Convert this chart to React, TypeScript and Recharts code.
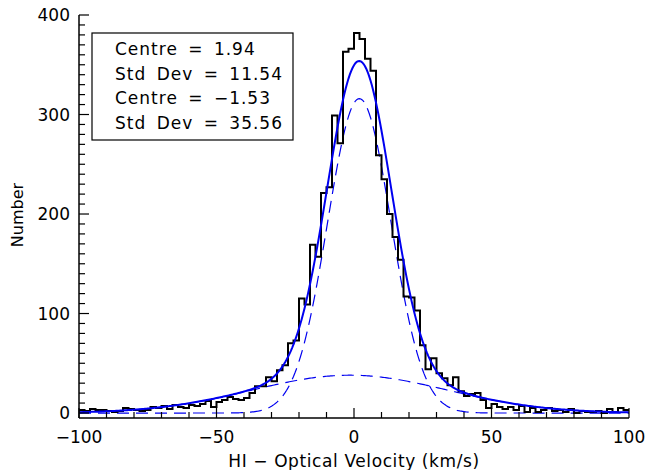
import React from "react";
import { ComposedChart, Line, XAxis, YAxis, Customized } from "recharts";

// histogram: 2 km/s bins from -100 to 100, counts per bin
const binEdges = Array.from({ length: 101 }, (_, i) => -100 + 2 * i);
const binCounts = [
  3, 2, 4, 3, 3, 2, 1, 2, 5, 4,
  3, 2, 3, 6, 5, 7, 4, 8, 6, 5,
  8, 7, 9, 12, 6, 11, 13, 16, 14, 13,
  15, 20, 27, 27, 36, 32, 43, 48, 70, 73,
  115, 109, 169, 157, 221, 227, 299, 271, 363, 366,
  382, 376, 356, 344, 259, 235, 200, 177, 154, 117,
  116, 103, 68, 44, 55, 40, 35, 28, 36, 22,
  17, 19, 20, 13, 5, 9, 6, 4, 6, 3,
  7, 1, 5, 1, 3, 5, 2, 3, 1, 4,
  0, 2, 1, 1, 2, 0, 4, 1, 5, 3,
];

// two-component gaussian fit
const fitCentres = [1.94, -1.53];
const fitSigmas = [11.54, 35.56];
const fitPeaks = [316, 38];

const xTicks = Array.from({ length: 21 }, (_, i) => -100 + 10 * i);
const yTicks = Array.from({ length: 41 }, (_, i) => 10 * i);

const legendLines = [
  `Centre = ${fitCentres[0].toFixed(2)}`,
  `Std Dev = ${fitSigmas[0].toFixed(2)}`,
  `Centre = ${fitCentres[1].toFixed(2).replace("-", "\u2212")}`,
  `Std Dev = ${fitSigmas[1].toFixed(2)}`,
];

const histData = binEdges.map((v, i) => ({
  v,
  count: binCounts[Math.min(i, binCounts.length - 1)],
}));

const gauss = (v: number, k: number) =>
  fitPeaks[k] * Math.exp(-((v - fitCentres[k]) ** 2) / (2 * fitSigmas[k] ** 2));

const curveData = Array.from({ length: 401 }, (_, i) => {
  const v = -100 + 0.5 * i;
  const narrow = gauss(v, 0);
  const broad = gauss(v, 1);
  return { v, narrow, broad, total: narrow + broad };
});

const FONT = "'DejaVu Sans', sans-serif";
const BLUE = "#0000f0";

const fmt = (v: number) => (v < 0 ? "\u2212" + Math.abs(v) : String(v));

const BottomTick = (p: any) => {
  const v = p.payload.value;
  const major = v % 50 === 0;
  return (
    <g>
      <line x1={p.x} x2={p.x} y1={p.y} y2={p.y - (major ? 10 : 6)} stroke="#000" strokeWidth={1.2} />
      {major && (
        <text x={p.x} y={p.y + 25} textAnchor="middle" fontSize={17} fontFamily={FONT} fill="#000">
          {fmt(v)}
        </text>
      )}
    </g>
  );
};

const TopTick = (p: any) => {
  const major = p.payload.value % 50 === 0;
  return <line x1={p.x} x2={p.x} y1={p.y} y2={p.y + (major ? 10 : 6)} stroke="#000" strokeWidth={1.2} />;
};

const LeftTick = (p: any) => {
  const v = p.payload.value;
  const major = v % 100 === 0;
  return (
    <g>
      <line x1={p.x} x2={p.x + (major ? 10 : 6)} y1={p.y} y2={p.y} stroke="#000" strokeWidth={1.2} />
      {major && (
        <text x={p.x - 9} y={p.y + 6} textAnchor="end" fontSize={17} fontFamily={FONT} fill="#000">
          {v}
        </text>
      )}
    </g>
  );
};

const RightTick = (p: any) => {
  const major = p.payload.value % 100 === 0;
  return <line x1={p.x} x2={p.x - (major ? 10 : 6)} y1={p.y} y2={p.y} stroke="#000" strokeWidth={1.2} />;
};

const FitBox = () => (
  <g>
    <rect x={92} y={33} width={201} height={107} fill="#fff" stroke="#000" strokeWidth={1.2} />
    {legendLines.map((t, i) => (
      <text
        key={i}
        x={115}
        y={55 + i * 24.7}
        fontSize={17}
        fontFamily={FONT}
        fill="#000"
        style={{ whiteSpace: "pre", letterSpacing: 1, wordSpacing: 4 }}
      >
        {t}
      </text>
    ))}
  </g>
);

const Titles = () => (
  <g fontFamily={FONT} fill="#000">
    <text x={354} y={467} textAnchor="middle" fontSize={17} style={{ letterSpacing: 0.6 }}>
      HI {"\u2212"} Optical Velocity (km/s)
    </text>
    <text x={23} y={215} textAnchor="middle" fontSize={16} transform="rotate(-90 23 215)">
      Number
    </text>
  </g>
);

export default function App() {
  return (
    <div style={{ position: "absolute", left: 0, top: 0, width: 648, height: 470, background: "#fff" }}>
      <ComposedChart width={648} height={470} margin={{ top: 15, right: 19, bottom: 0, left: 0 }}>
        <XAxis
          xAxisId="x"
          type="number"
          dataKey="v"
          domain={[-100, 100]}
          ticks={xTicks}
          interval={0}
          allowDataOverflow
          height={52}
          tickSize={0}
          tickMargin={0}
          tickLine={false}
          axisLine={{ stroke: "#000", strokeWidth: 1.5 }}
          tick={<BottomTick />}
        />
        <XAxis
          xAxisId="top"
          orientation="top"
          type="number"
          dataKey="v"
          domain={[-100, 100]}
          ticks={xTicks}
          interval={0}
          allowDataOverflow
          height={0}
          tickSize={0}
          tickMargin={0}
          tickLine={false}
          axisLine={{ stroke: "#000", strokeWidth: 1.5 }}
          tick={<TopTick />}
        />
        <YAxis
          yAxisId="y"
          type="number"
          domain={[-5, 400]}
          ticks={yTicks}
          interval={0}
          allowDataOverflow
          width={79}
          tickSize={0}
          tickMargin={0}
          tickLine={false}
          axisLine={{ stroke: "#000", strokeWidth: 1.5 }}
          tick={<LeftTick />}
        />
        <YAxis
          yAxisId="yr"
          orientation="right"
          type="number"
          domain={[-5, 400]}
          ticks={yTicks}
          interval={0}
          allowDataOverflow
          width={0}
          tickSize={0}
          tickMargin={0}
          tickLine={false}
          axisLine={{ stroke: "#000", strokeWidth: 1.5 }}
          tick={<RightTick />}
        />
        <Line
          xAxisId="x"
          yAxisId="y"
          data={curveData}
          dataKey="narrow"
          type="linear"
          stroke={BLUE}
          strokeWidth={1.2}
          strokeDasharray="12 7"
          dot={false}
          isAnimationActive={false}
        />
        <Line
          xAxisId="x"
          yAxisId="y"
          data={curveData}
          dataKey="broad"
          type="linear"
          stroke={BLUE}
          strokeWidth={1.2}
          strokeDasharray="12 7"
          dot={false}
          isAnimationActive={false}
        />
        <Line
          xAxisId="x"
          yAxisId="y"
          data={histData}
          dataKey="count"
          type="stepAfter"
          stroke="#000"
          strokeWidth={2}
          dot={false}
          isAnimationActive={false}
        />
        <Line
          xAxisId="x"
          yAxisId="y"
          data={curveData}
          dataKey="total"
          type="linear"
          stroke={BLUE}
          strokeWidth={2}
          dot={false}
          isAnimationActive={false}
        />
        <Customized component={FitBox} />
        <Customized component={Titles} />
      </ComposedChart>
    </div>
  );
}
